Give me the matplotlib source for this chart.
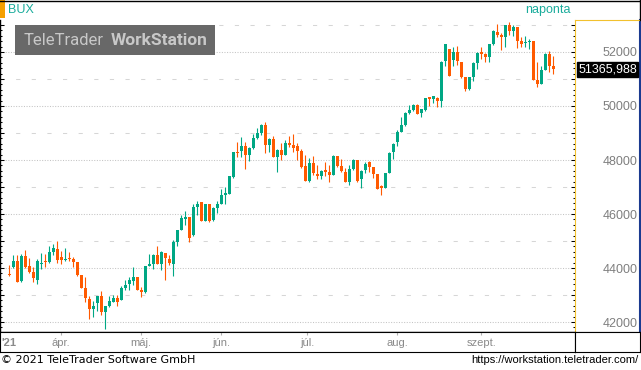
import numpy as np
import matplotlib.pyplot as plt
from matplotlib.lines import Line2D
from matplotlib.patches import Rectangle
from matplotlib.ticker import MultipleLocator

# BUX daily candles
opens = [43790, 44050, 44260, 43510, 44460, 44060, 43860, 43540, 44150, 44235,
         44220, 44600, 44720, 44410, 44280, 44360, 44350, 44210, 43750, 43270,
         42870, 42500, 42710, 42975, 42370, 42590, 42740, 42890, 42800, 43260,
         43420, 43530, 43680, 43200, 43100, 44060, 44160, 44470, 44160, 44570,
         44350, 44150, 44975, 45400, 45815, 45890, 45220, 46270, 46440, 45740,
         46370, 45780, 46235, 46380, 46720, 46750, 47370, 48280, 48330, 48530,
         48200, 48460, 48830, 49010, 49310, 48540, 48790, 48120, 48380, 48200,
         48610, 48570, 48530, 48350, 47790, 47235, 47900, 47490, 47420, 47605,
         47570, 47460, 48160, 47790, 47570, 47200, 47680, 48010, 47310, 47640,
         47940, 47750, 47490, 47000, 46975, 47530, 48280, 48680, 49050, 49310,
         49750, 49840, 50050, 49740, 49865, 50310, 50260, 50310, 50200, 51650,
         52120, 51715, 52010, 51640, 51085, 50640, 51085, 51595, 51975, 51940,
         51815, 52285, 52755, 52640, 52545, 53010, 52765, 52940, 52395, 52335,
         52360, 52395, 50975, 50825, 51320, 51940, 51470]
highs = [44100, 44480, 44490, 44520, 44650, 44380, 44030, 44340, 44560, 44520,
         44800, 44890, 45010, 44620, 44740, 44580, 44400, 44210, 43750, 43650,
         42980, 42770, 42980, 43160, 42610, 42950, 43000, 43000, 43350, 43570,
         43650, 44050, 43680, 43310, 44060, 44530, 44530, 44830, 44630, 44570,
         44490, 45025, 45420, 45950, 46110, 45890, 46380, 46480, 46440, 46370,
         46370, 46250, 46470, 46910, 47000, 47420, 48300, 48680, 48860, 48680,
         48480, 48975, 49200, 49340, 49420, 48830, 48900, 48420, 48640, 48750,
         48900, 48975, 48640, 48420, 48185, 48090, 48160, 47830, 47640, 47940,
         47830, 48200, 48160, 48050, 47720, 47830, 48050, 48010, 47640, 47940,
         47975, 47750, 47490, 47090, 47530, 48310, 48640, 49110, 49600, 49765,
         50040, 50075, 50090, 49890, 50310, 50335, 50385, 50335, 51665, 52310,
         52120, 52185, 52210, 51640, 51085, 51085, 51615, 52000, 52200, 51965,
         52310, 52805, 53050, 52690, 53010, 53120, 53010, 52940, 52570, 52595,
         52470, 52395, 51615, 51470, 51965, 52050, 51865]
lows = [43700, 43990, 43470, 43500, 43990, 43820, 43490, 43400, 43960, 44050,
        44180, 44480, 44190, 44140, 44270, 44270, 44050, 43700, 43260, 42750,
        42120, 42170, 42400, 42270, 41750, 42570, 42730, 42600, 42800, 43200,
        43200, 43380, 43170, 42910, 43090, 44060, 43950, 44140, 43940, 43540,
        44100, 43710, 44800, 45400, 45590, 44975, 45200, 45975, 45740, 45740,
        45700, 45750, 46025, 46380, 46360, 46730, 47350, 48100, 48100, 47680,
        47975, 48420, 48780, 48940, 48250, 48310, 48100, 47570, 48010, 48170,
        48490, 48310, 48010, 47720, 47230, 47200, 47430, 47310, 47310, 47420,
        47200, 47460, 47750, 47570, 47200, 47090, 47640, 47200, 46975, 47530,
        47570, 47350, 46940, 46720, 46975, 47530, 48030, 48510, 49025, 49270,
        49715, 49815, 49690, 49590, 49800, 50010, 50110, 49975, 49975, 51465,
        51110, 51470, 51530, 51040, 50570, 50605, 50915, 51370, 51740, 51615,
        51615, 52260, 52545, 52085, 52175, 52640, 52595, 52135, 52175, 52175,
        52100, 50975, 50715, 50825, 51320, 51245, 51195]
closes = [43730, 44270, 43480, 44460, 44050, 43860, 43620, 44270, 44170, 44210,
          44590, 44740, 44310, 44280, 44350, 44320, 44220, 43750, 43270, 42880,
          42490, 42600, 42975, 42370, 42605, 42765, 42890, 42750, 43270, 43360,
          43540, 43680, 43175, 43100, 44060, 44140, 44470, 44160, 44580, 44360,
          44170, 44975, 45400, 45850, 45890, 45120, 46270, 46380, 45740, 46370,
          45740, 46220, 46380, 46720, 46740, 47420, 48280, 48250, 48530, 48200,
          48460, 48830, 49010, 49310, 48540, 48790, 48120, 48380, 48200, 48640,
          48570, 48460, 48350, 47750, 47235, 47900, 47530, 47420, 47605, 47570,
          47460, 48160, 47790, 47605, 47200, 47680, 48010, 47235, 47605, 47860,
          47750, 47490, 46940, 46975, 47530, 48270, 48605, 49050, 49310, 49740,
          49840, 50040, 49715, 49890, 50310, 50270, 50385, 50200, 51645, 52310,
          51115, 52010, 51655, 51075, 50640, 51085, 51595, 51975, 51940, 51815,
          52285, 52765, 52640, 52555, 53010, 52765, 52915, 52395, 52310, 52360,
          52395, 50975, 50825, 51345, 51940, 51470, 51365.988]

month_labels = ['ápr.', 'máj.', 'jún.', 'júl.', 'aug.', 'szept.']
month_pos = [13, 33, 53, 74.5, 97, 118]
price_ticks = [42000, 44000, 46000, 48000, 50000, 52000]

TEAL = '#00a784'
ORANGE = '#ff5a00'
W, H = 641, 370

fig = plt.figure(figsize=(W / 100, H / 100), dpi=100)
fig.patch.set_facecolor('white')

def box(x0, y0, x1, y1):
    # pixel box (from top-left) -> figure fraction rect
    return [x0 / W, 1 - y1 / H, (x1 - x0) / W, (y1 - y0) / H]

# main price panel
ax = fig.add_axes(box(0, 20, 575, 332))
ymin, ymax = 41630, 53185
ax.set_ylim(ymin, ymax)
ax.set_xlim(-2.3, 141.4)

for lvl in range(42000, 54000, 1000):
    if lvl % 2000 == 0:
        ax.axhline(lvl, color='#c4c4c4', lw=0.75, ls=(0, (1, 1.5)), zorder=0)
    else:
        ax.axhline(lvl, color='#d6d6d6', lw=0.75, ls=(0, (4, 11)), zorder=0)

o = np.array(opens)
c = np.array(closes)
hi = np.array(highs)
lo = np.array(lows)
x = np.arange(len(o))
cols = np.where(c >= o, TEAL, ORANGE)
ax.vlines(x, lo, hi, colors=cols, lw=0.8, zorder=2)
body_h = np.maximum(np.abs(c - o), 45)
ax.bar(x, body_h, bottom=np.minimum(o, c), width=0.78, color=cols, lw=0, zorder=3)

ax.yaxis.set_major_locator(MultipleLocator(1000))
ax.yaxis.set_minor_locator(MultipleLocator(200))
ax.tick_params(axis='y', which='both', left=True, right=True, direction='in',
               labelleft=False, labelright=False, color='black', width=0.75)
ax.tick_params(axis='y', which='major', length=3)
ax.tick_params(axis='y', which='minor', length=1.6)
ax.set_xticks([])
for s in ['top', 'right']:
    ax.spines[s].set_visible(False)
ax.spines['left'].set_color('black')
ax.spines['bottom'].set_color('black')
ax.spines['left'].set_linewidth(1)
ax.spines['bottom'].set_linewidth(1)

# price scale on the right
axr = fig.add_axes(box(575, 20, 640, 332))
axr.set_ylim(ymin, ymax)
axr.set_xticks([])
axr.set_yticks(price_ticks)
axr.yaxis.tick_right()
axr.tick_params(axis='y', length=0, pad=-2, labelsize=9, labelcolor='#7f7f7f')
for lbl in axr.get_yticklabels():
    lbl.set_ha('right')
    lbl.set_family('Liberation Sans')
axr.spines['left'].set_color('#f2c12e')
axr.spines['top'].set_color('#f2c12e')
axr.spines['right'].set_color('#1a3a90')
axr.spines['right'].set_linewidth(1.5)
axr.spines['bottom'].set_color('black')
last = closes[-1]
axr.text(0.5, last, f"{last:.3f}".replace('.', ','), transform=axr.get_yaxis_transform(),
         ha='center', va='center', color='white', fontsize=9, family='Liberation Sans',
         bbox=dict(boxstyle='square,pad=0.12', fc='black', ec='black'))

# month band
axb = fig.add_axes(box(0, 332, 575, 352))
axb.set_xlim(ax.get_xlim())
axb.set_ylim(0, 1)
axb.set_yticks([])
axb.set_xticks(month_pos)
axb.tick_params(axis='x', top=True, bottom=False, direction='in', length=2,
                color='#b0b0b0', labelbottom=False)
for pos, lab in zip(month_pos, month_labels):
    axb.text(pos, 0.45, lab, transform=axb.get_xaxis_transform(), ha='center', va='center',
             fontsize=8, color='#8a8a8a', family='Liberation Sans')
axb.text(0.002, 0.45, "'21", transform=axb.transAxes, ha='left', va='center',
         fontsize=8, color='#8a8a8a', fontweight='bold', family='Liberation Sans')
for s in axb.spines.values():
    s.set_color('black')

axc = fig.add_axes(box(575, 332, 640, 352))
axc.set_xticks([])
axc.set_yticks([])
for s in axc.spines.values():
    s.set_color('black')

# header
fig.add_artist(Line2D([0, 1], [1 - 0.5 / H, 1 - 0.5 / H], transform=fig.transFigure,
                      color='black', lw=1))
fig.add_artist(Line2D([1 - 1 / W, 1 - 1 / W], [1 - 20 / H, 1], transform=fig.transFigure,
                      color='black', lw=1))
fig.add_artist(Rectangle((0, 1 - 18 / H), 5 / W, 18 / H, transform=fig.transFigure,
                         fc='#f5a000', ec='none'))
fig.text(8 / W, 1 - 10 / H, 'BUX', color='#1aac9c', fontsize=9, family='Liberation Sans',
         ha='left', va='center')
fig.text(548 / W, 1 - 10 / H, 'naponta', color='#1aac9c', fontsize=9,
         family='Liberation Sans', ha='center', va='center')

# watermark
fig.add_artist(Rectangle((15 / W, 1 - 55 / H), 200 / W, 30 / H, transform=fig.transFigure,
                         fc='#686868', ec='none', zorder=5))
fig.text(24 / W, 1 - 40.5 / H, 'TeleTrader', color='#c8c8c8', fontsize=12,
         family='Roboto', ha='left', va='center', zorder=6)
fig.text(208 / W, 1 - 40.5 / H, 'WorkStation', color='#c8c8c8', fontsize=12.5,
         family='Roboto', fontweight='bold', ha='right', va='center', zorder=6)

# footer
fig.text(1 / W, 1 - 360 / H, '© 2021 TeleTrader Software GmbH', fontsize=8,
         family='DejaVu Sans', ha='left', va='center', color='black')
fig.text(638 / W, 1 - 360 / H, 'https://workstation.teletrader.com/', fontsize=8,
         family='Liberation Sans', ha='right', va='center', color='black')

fig.savefig('out.png', dpi=100)
